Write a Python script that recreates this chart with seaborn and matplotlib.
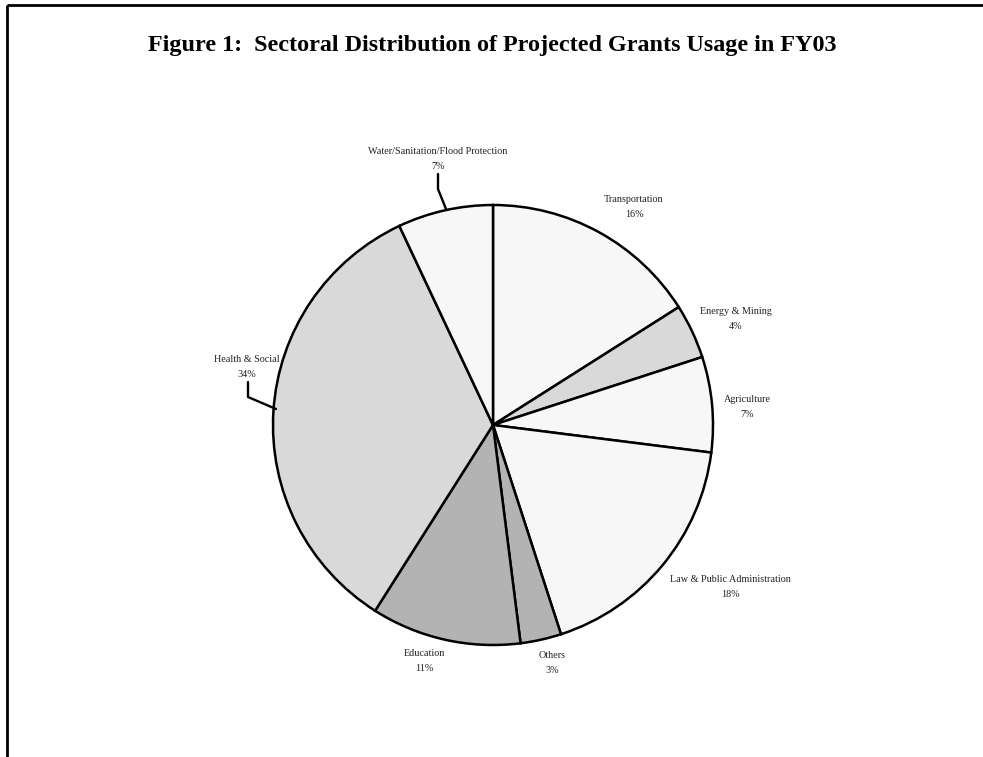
import matplotlib
matplotlib.use("Agg")
import matplotlib.pyplot as plt
import seaborn as sns

# ---- data ----
sectors = ["Transportation", "Energy & Mining", "Agriculture",
           "Law & Public Administration", "Others", "Education",
           "Health & Social", "Water/Sanitation/Flood Protection"]
shares = [16, 4, 7, 18, 3, 11, 34, 7]
pct_labels = ["16%", "4%", "7%", "18%", "3%", "11%", "34%", "7%"]
title = "Figure 1:  Sectoral Distribution of Projected Grants Usage in FY03"

# ---- styles / layout ----
colors = ["#f7f7f7", "#d9d9d9", "#f7f7f7", "#f7f7f7",
          "#b3b3b3", "#b3b3b3", "#d9d9d9", "#f7f7f7"]
# label centres in pixel coordinates (x, y from top)
label_pos = [(634, 200), (736, 312), (747, 400), (730, 580),
             (552, 656), (424, 654), (247, 360), (438, 152)]
line_gap = 14.5

sns.set_theme(style="white")
plt.rcParams["font.family"] = ["Liberation Serif", "DejaVu Serif"]

W, H = 983, 757
fig = plt.figure(figsize=(W / 100, H / 100), dpi=100)
fig.patch.set_facecolor("white")
ax = fig.add_axes([0, 0, 1, 1])

cx, cy, r = 493, 425, 220
ax.pie(shares, colors=colors, startangle=90, counterclock=False,
       center=(cx, H - cy), radius=r,
       wedgeprops=dict(edgecolor="black", linewidth=1.8))
ax.set_xlim(0, W)
ax.set_ylim(0, H)
ax.set_aspect("equal")
ax.axis("off")

for name, pct, (x, y) in zip(sectors, pct_labels, label_pos):
    ax.text(x, H - y, name, ha="center", va="center", fontsize=7.3, color="#222222")
    ax.text(x, H - (y + line_gap), pct, ha="center", va="center", fontsize=7.3, color="#222222")

# leader lines
ax.plot([438, 438, 446], [H - 174, H - 189, H - 209], color="black", lw=1.7)
ax.plot([248, 248, 276], [H - 382, H - 397, H - 409], color="black", lw=1.7)

# page frame (top and left)
ax.plot([7, W], [H - 4.5, H - 4.5], color="black", lw=2, solid_capstyle="butt")
ax.plot([7, 7], [H - 4.5, 0], color="black", lw=2, solid_capstyle="butt")

ax.text(492, H - 45, title, ha="center", va="center", fontsize=17.4,
        fontweight="bold", color="black")

fig.savefig("out.png", dpi=100, facecolor="white")
